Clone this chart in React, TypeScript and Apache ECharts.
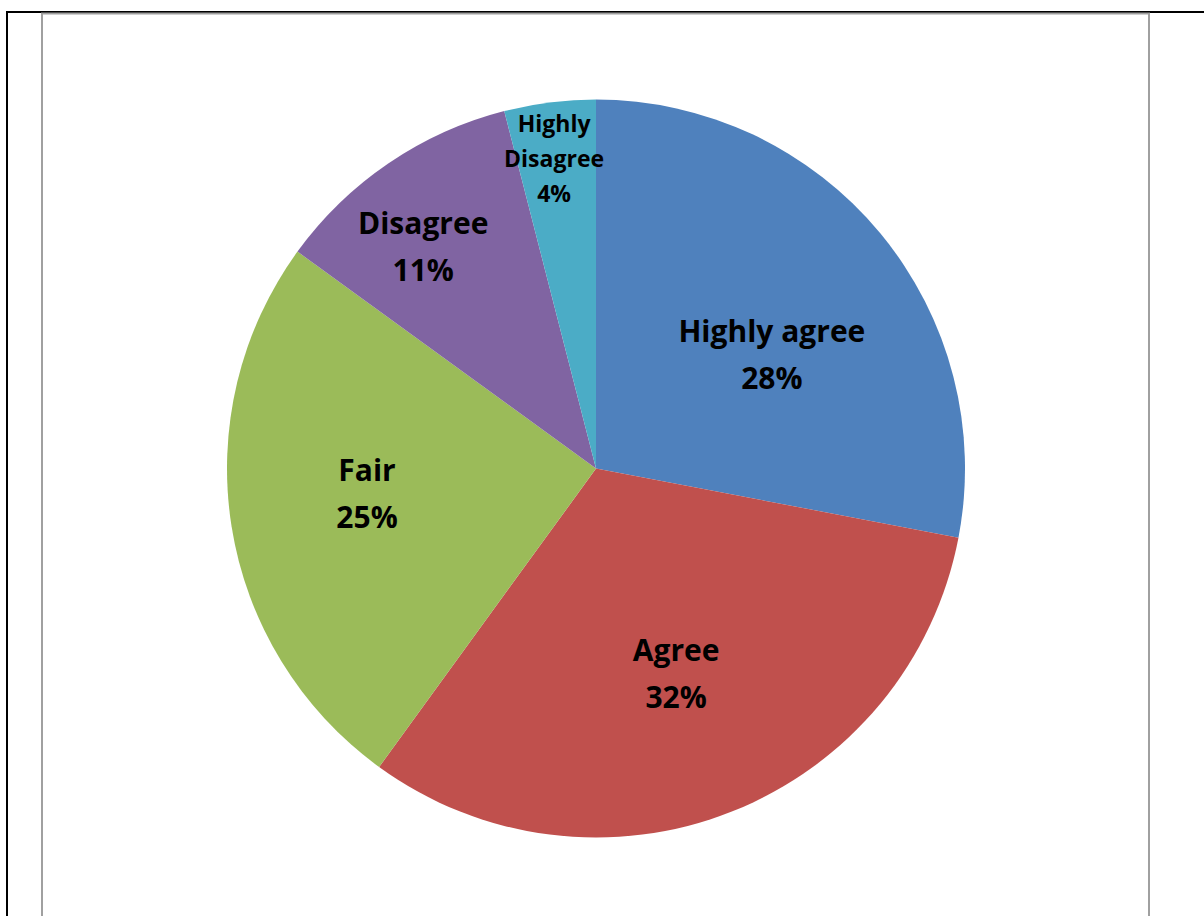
import React, { useEffect, useRef } from "react";
import * as echarts from "echarts";

const categories = ["Highly agree", "Agree", "Fair", "Disagree", "Highly Disagree"];
const values = [28, 32, 25, 11, 4];
const colors = ["#4F81BD", "#C0504D", "#9BBB59", "#8064A2", "#4BACC6"];
// label placement: distance from the centre (fraction of radius) and angular shift from slice middle (deg)
const labelRadius = [0.569, 0.595, 0.624, 0.764, 0.848];
const labelAngleShift = [6.5, 0.2, 3.0, -3.6, -0.5];

const W = 1204;
const H = 916;
const CX = 596;
const CY = 468.5;
const R = 369;

export default function App() {
  const ref = useRef<HTMLDivElement>(null);
  useEffect(() => {
    const chart = echarts.init(ref.current!, null, { renderer: "svg" });
    const total = values.reduce((a, b) => a + b, 0);
    const mids: number[] = [];
    let acc = 0;
    values.forEach((v, i) => {
      mids.push(((acc + v / 2) / total) * Math.PI * 2 + (labelAngleShift[i] * Math.PI) / 180);
      acc += v;
    });
    const frame = [
      { shape: { x1: 6, y1: 12, x2: W, y2: 12 }, style: { stroke: "#000", lineWidth: 2 } },
      { shape: { x1: 7, y1: 11, x2: 7, y2: H }, style: { stroke: "#000", lineWidth: 2 } },
      { shape: { x1: 41, y1: 13.5, x2: 1150, y2: 13.5 }, style: { stroke: "#A0A0A0", lineWidth: 2 } },
      { shape: { x1: 42, y1: 13, x2: 42, y2: H }, style: { stroke: "#A0A0A0", lineWidth: 2 } },
      { shape: { x1: 1149, y1: 13, x2: 1149, y2: H }, style: { stroke: "#A0A0A0", lineWidth: 2 } },
    ].map((l) => ({ type: "line", silent: true, ...l }));
    chart.setOption({
      animation: false,
      backgroundColor: "#fff",
      graphic: { elements: frame },
      series: [
        {
          type: "pie",
          center: [CX, CY],
          radius: [0, R],
          startAngle: 90,
          clockwise: true,
          avoidLabelOverlap: false,
          itemStyle: { borderWidth: 0 },
          emphasis: { disabled: true },
          label: {
            show: true,
            position: "inside",
            formatter: "{b}\n{d}%",
            fontFamily: "Open Sans",
            fontWeight: "bold",
            fontSize: 30,
            lineHeight: 47,
            color: "#000",
            align: "center",
            verticalAlign: "middle",
          },
          labelLine: { show: false },
          labelLayout: (p: any) => {
            const i = p.dataIndex;
            const a = mids[i];
            const d = labelRadius[i] * R;
            return { x: CX + Math.sin(a) * d, y: CY - Math.cos(a) * d };
          },
          data: categories.map((name, i) => ({
            name,
            value: values[i],
            itemStyle: { color: colors[i] },
            label:
              i === 4
                ? { formatter: "Highly\nDisagree\n{d}%", fontSize: 23, lineHeight: 35 }
                : undefined,
          })),
        },
      ],
    });
    return () => chart.dispose();
  }, []);
  return (
    <div
      ref={ref}
      style={{ position: "fixed", left: 0, top: 0, width: W, height: H }}
    />
  );
}
